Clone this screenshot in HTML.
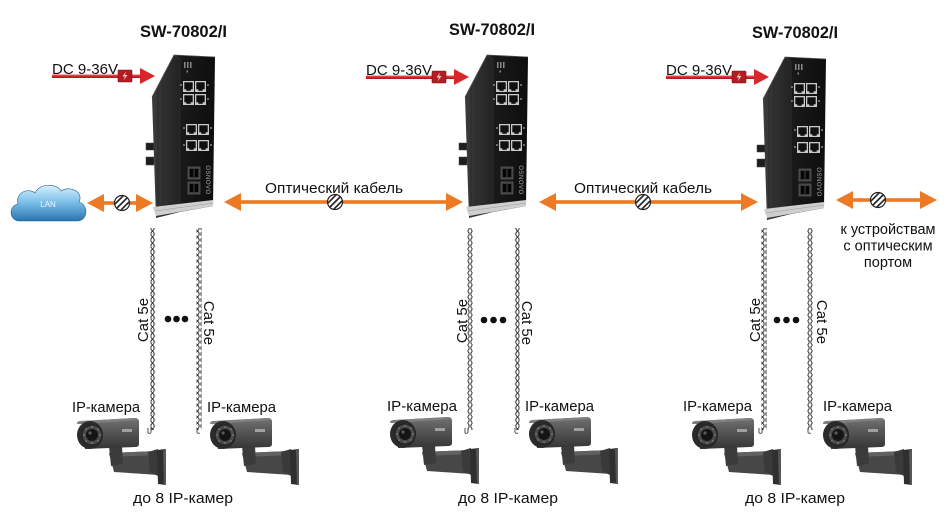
<!DOCTYPE html>
<html><head><meta charset="utf-8"><style>
html,body{margin:0;padding:0;background:#fff;}
svg{display:block;}
text{font-family:"Liberation Sans",Arial,sans-serif;fill:#111;}
</style></head><body>
<svg width="948" height="529" viewBox="0 0 948 529" xmlns="http://www.w3.org/2000/svg">
<defs>
  <linearGradient id="side" x1="0" x2="1" y1="0" y2="0"><stop offset="0" stop-color="#3b3b3b"/><stop offset="1" stop-color="#222"/></linearGradient>
  <linearGradient id="front" x1="0" x2="1" y1="0" y2="0"><stop offset="0" stop-color="#1c1c1c"/><stop offset="1" stop-color="#0e0e0e"/></linearGradient>
  <linearGradient id="cloud" x1="0" y1="0" x2="0" y2="1"><stop offset="0" stop-color="#d8f0fd"/><stop offset="0.45" stop-color="#7fc2ea"/><stop offset="1" stop-color="#2a74b0"/></linearGradient>
  <linearGradient id="camg" x1="0" y1="0" x2="0" y2="1"><stop offset="0" stop-color="#727272"/><stop offset="0.45" stop-color="#555"/><stop offset="1" stop-color="#353535"/></linearGradient>
  <linearGradient id="redl" x1="0" y1="0" x2="0" y2="1"><stop offset="0" stop-color="#f06060"/><stop offset="0.5" stop-color="#d8262b"/><stop offset="1" stop-color="#a81518"/></linearGradient>
  <pattern id="tp" width="5" height="6" patternUnits="userSpaceOnUse"><path d="M0.8,0 C0.8,3 4.2,3 4.2,6 M4.2,0 C4.2,3 0.8,3 0.8,6" stroke="#333" stroke-width="0.95" fill="none"/></pattern>
  <clipPath id="cc"><circle cx="0" cy="0" r="7"/></clipPath>
  <g id="hatch">
    <circle r="7.5" fill="#fff" stroke="#222" stroke-width="1.2"/>
    <g clip-path="url(#cc)" stroke="#222" stroke-width="1.6">
      <line x1="-9" y1="3" x2="3" y2="-9"/>
      <line x1="-6" y1="6" x2="6" y2="-6"/>
      <line x1="-3" y1="9" x2="9" y2="-3"/>
    </g>
  </g>
  <g id="rj"><rect width="11" height="11" fill="#c9c9c9"/><rect x="1.3" y="1.3" width="8.4" height="7" fill="#101010"/><rect x="3.3" y="8" width="4.4" height="1.8" fill="#101010"/></g>
  <g id="sfp"><rect width="12" height="12" fill="#3c3c3c" stroke="#6a6a6a" stroke-width="0.6"/><rect x="1.8" y="2" width="3.6" height="8" fill="#050505"/><rect x="6.6" y="2" width="3.6" height="8" fill="#050505"/></g>
  <g id="sw">
    <rect x="146" y="143" width="8" height="7" fill="#1e1e1e" stroke="#444" stroke-width="0.5"/>
    <rect x="146" y="157" width="8" height="8" fill="#1e1e1e" stroke="#444" stroke-width="0.5"/>
    <polygon points="174,55 180,59 180,212 156,218 152,97" fill="url(#side)"/>
    <g stroke="#2a2a2a" stroke-width="0.8">
      <line x1="158" y1="88" x2="158" y2="215"/><line x1="163" y1="80" x2="163" y2="214"/>
      <line x1="168" y1="70" x2="168" y2="213"/><line x1="173" y1="60" x2="173" y2="212"/>
    </g>
    <polygon points="174,55 215,57 213,206 180,212 180,59" fill="url(#front)"/>
    <polyline points="152,97 174,55 215,57" fill="none" stroke="#555" stroke-width="0.8"/>
    <line x1="180" y1="59" x2="180" y2="212" stroke="#333" stroke-width="0.6"/>
    <polygon points="153,207 213,200 213,206 156,216" fill="#cfcfcf"/>
    <line x1="155" y1="211" x2="213" y2="203" stroke="#999" stroke-width="0.5"/>
    <rect x="184" y="62" width="1.5" height="6" fill="#8a8a8a"/><rect x="187" y="62" width="1.5" height="6" fill="#8a8a8a"/><rect x="190" y="62" width="1.5" height="6" fill="#8a8a8a"/>
    <rect x="186.5" y="70.5" width="1.5" height="2" fill="#8a8a8a"/>
    <use href="#rj" x="183" y="81"/><use href="#rj" x="195" y="81"/>
    <use href="#rj" x="183" y="94"/><use href="#rj" x="195" y="94"/>
    <use href="#rj" x="186" y="124"/><use href="#rj" x="198" y="124"/>
    <use href="#rj" x="186" y="140"/><use href="#rj" x="198" y="140"/>
    <g fill="#8a8a8a">
      <circle cx="181" cy="85" r="1"/><circle cx="208" cy="85" r="1"/><circle cx="181" cy="99" r="1"/><circle cx="208" cy="99" r="1"/>
      <circle cx="184" cy="128" r="1"/><circle cx="211" cy="128" r="1"/><circle cx="184" cy="145" r="1"/><circle cx="211" cy="145" r="1"/>
    </g>
    <use href="#sfp" x="188" y="167"/><use href="#sfp" x="188" y="182"/>
  </g>
  <g id="cam">
    <polygon points="32,35 81,33 82,57 37,54" fill="#474747"/>
    <polygon points="32,35 81,33 81,37 33,39" fill="#616161"/>
    <polygon points="71,34 81,31 81,58 73,54" fill="#3a3a3a"/>
    <polygon points="80,32 89,31 89,67 81,66" fill="#2f2f2f"/>
    <polygon points="86,31 89,31 89,67 87,67" fill="#575757"/>
    <polygon points="32,28 45,28 46,46 34,48" fill="#3b3b3b"/>
    <path d="M6,3 L58,0 Q62,0 62,4 L62,26 Q62,29 58,29 L8,31 Z" fill="url(#camg)"/>
    <path d="M0,6 Q0,3 3,3 L58,0 L61,2 L4,6 Z" fill="#808080"/>
    <ellipse cx="13" cy="17" rx="13" ry="14" fill="#2b2b2b"/>
    <circle cx="15" cy="17" r="10" fill="#4a4a4a" stroke="#1e1e1e" stroke-width="1"/>
    <circle cx="15" cy="17" r="6" fill="#141414"/>
    <circle cx="13" cy="15" r="1.6" fill="#5a5a5a"/>
    <g fill="#8a8a8a">
      <circle cx="23" cy="17" r="0.8"/><circle cx="21" cy="11" r="0.8"/><circle cx="15" cy="9" r="0.8"/><circle cx="9" cy="11" r="0.8"/>
      <circle cx="7" cy="17" r="0.8"/><circle cx="9" cy="23" r="0.8"/><circle cx="15" cy="25" r="0.8"/><circle cx="21" cy="23" r="0.8"/>
    </g>
    <rect x="45" y="11" width="10" height="3" fill="#a0a0a0"/>
  </g>
  <g id="bolt">
    <rect x="0" y="0" width="14" height="12" rx="1" fill="#b31d22" stroke="#7a0f12" stroke-width="0.6"/>
    <path d="M8,1.5 L4.5,6.5 L7,6.5 L5.5,10.5 L9.5,5 L7,5 Z" fill="#f7c6c6"/>
  </g>
</defs>

<!-- Titles -->
<text x="140" y="37" font-size="16.5" font-weight="bold" textLength="87" lengthAdjust="spacingAndGlyphs">SW-70802/I</text>
<text x="449" y="35" font-size="16.5" font-weight="bold" textLength="86" lengthAdjust="spacingAndGlyphs">SW-70802/I</text>
<text x="752" y="38" font-size="16.5" font-weight="bold" textLength="86" lengthAdjust="spacingAndGlyphs">SW-70802/I</text>

<!-- DC arrows -->
<g>
  <text x="52" y="74" font-size="15" textLength="66" lengthAdjust="spacingAndGlyphs">DC 9-36V</text>
  <rect x="52" y="74.5" width="90" height="3.5" fill="url(#redl)"/>
  <polygon points="140,68 155,76 140,84" fill="#d8262b"/>
  <use href="#bolt" x="118" y="70"/>
</g>
<g transform="translate(314,1)">
  <text x="52" y="74" font-size="15" textLength="66" lengthAdjust="spacingAndGlyphs">DC 9-36V</text>
  <rect x="52" y="74.5" width="90" height="3.5" fill="url(#redl)"/>
  <polygon points="140,68 155,76 140,84" fill="#d8262b"/>
  <use href="#bolt" x="118" y="70"/>
</g>
<g transform="translate(614,1)">
  <text x="52" y="74" font-size="15" textLength="66" lengthAdjust="spacingAndGlyphs">DC 9-36V</text>
  <rect x="52" y="74.5" width="90" height="3.5" fill="url(#redl)"/>
  <polygon points="140,68 155,76 140,84" fill="#d8262b"/>
  <use href="#bolt" x="118" y="70"/>
</g>

<!-- Switches -->
<use href="#sw"/>
<use href="#sw" transform="translate(313,0)"/>
<use href="#sw" transform="translate(611,2)"/>
<text transform="translate(206,180) rotate(90)" font-size="6" text-anchor="middle" style="fill:#aaa" letter-spacing="0.5">OSNOVO</text>
<text transform="translate(519,180) rotate(90)" font-size="6" text-anchor="middle" style="fill:#aaa" letter-spacing="0.5">OSNOVO</text>
<text transform="translate(817,182) rotate(90)" font-size="6" text-anchor="middle" style="fill:#aaa" letter-spacing="0.5">OSNOVO</text>

<!-- LAN cloud -->
<path d="M20,221 C9,221 8,206 18,204 C15,193 28,187 35,193 C39,183 57,183 61,191 C70,185 84,192 79,202 C89,205 88,221 77,221 Z" fill="url(#cloud)" stroke="#1d5f92" stroke-width="0.6"/>
<text x="48" y="207" font-size="8" text-anchor="middle" style="fill:#f4f9fd">LAN</text>

<!-- Orange arrows -->
<g fill="#ec7a25">
  <rect x="100" y="201.2" width="40" height="3.6"/>
  <polygon points="87,203 104,194 104,212"/><polygon points="153,203 136,194 136,212"/>
  <rect x="238" y="200.2" width="212" height="3.6"/>
  <polygon points="224,202 241,193 241,211"/><polygon points="463,202 446,193 446,211"/>
  <rect x="553" y="200.2" width="192" height="3.6"/>
  <polygon points="539,202 556,193 556,211"/><polygon points="758,202 741,193 741,211"/>
  <rect x="850" y="198.2" width="74" height="3.6"/>
  <polygon points="836,200 853,191 853,209"/><polygon points="937,200 920,191 920,209"/>
</g>
<use href="#hatch" x="122" y="203"/>
<use href="#hatch" x="335" y="202"/>
<use href="#hatch" x="643" y="202"/>
<use href="#hatch" x="878" y="200"/>

<text x="265" y="193" font-size="15" textLength="138" lengthAdjust="spacingAndGlyphs">Оптический кабель</text>
<text x="574" y="193" font-size="15" textLength="138" lengthAdjust="spacingAndGlyphs">Оптический кабель</text>

<text x="888" y="234" font-size="14.5" text-anchor="middle">к устройствам</text>
<text x="888" y="250.5" font-size="14.5" text-anchor="middle">с оптическим</text>
<text x="888" y="267" font-size="14.5" text-anchor="middle">портом</text>

<!-- Cables -->
<g>
  <rect x="150.5" y="228" width="5" height="202" fill="url(#tp)"/>
  <rect x="196.5" y="228" width="5" height="202" fill="url(#tp)"/>
  <rect x="467.5" y="228" width="5" height="202" fill="url(#tp)"/>
  <rect x="514.5" y="228" width="5" height="202" fill="url(#tp)"/>
  <rect x="761.5" y="228" width="5" height="202" fill="url(#tp)"/>
  <rect x="807.5" y="228" width="5" height="202" fill="url(#tp)"/>
</g>
<g fill="none" stroke="#3a3a3a" stroke-width="0.9">
  <path d="M151,428 L151,432 Q151,434 148,433 L148,428"/>
  <path d="M197,428 L197,432 Q197,434 200,433"/>
  <path d="M468,428 L468,432 Q468,434 465,433 L465,428"/>
  <path d="M515,428 L515,432 Q515,434 518,433"/>
  <path d="M762,428 L762,432 Q762,434 759,433 L759,428"/>
  <path d="M808,428 L808,432 Q808,434 811,433"/>
</g>

<!-- Cat 5e labels -->
<text transform="translate(148,320) rotate(-90)" font-size="15" text-anchor="middle">Cat 5e</text>
<text transform="translate(204,323) rotate(90)" font-size="15" text-anchor="middle">Cat 5e</text>
<text transform="translate(467,321) rotate(-90)" font-size="15" text-anchor="middle">Cat 5e</text>
<text transform="translate(522,323) rotate(90)" font-size="15" text-anchor="middle">Cat 5e</text>
<text transform="translate(760,320) rotate(-90)" font-size="15" text-anchor="middle">Cat 5e</text>
<text transform="translate(817,322) rotate(90)" font-size="15" text-anchor="middle">Cat 5e</text>

<!-- Dots -->
<g fill="#111">
  <circle cx="168" cy="319" r="3.3"/><circle cx="176.5" cy="319" r="3.3"/><circle cx="185" cy="319" r="3.3"/>
  <circle cx="484" cy="320" r="3.3"/><circle cx="493.5" cy="320" r="3.3"/><circle cx="503" cy="320" r="3.3"/>
  <circle cx="777" cy="320" r="3.3"/><circle cx="786.5" cy="320" r="3.3"/><circle cx="796" cy="320" r="3.3"/>
</g>

<!-- Camera labels -->
<text x="72" y="412" font-size="14.5" textLength="68" lengthAdjust="spacingAndGlyphs">IP-камера</text>
<text x="207" y="412" font-size="14.5" textLength="69" lengthAdjust="spacingAndGlyphs">IP-камера</text>
<text x="387" y="411" font-size="14.5" textLength="70" lengthAdjust="spacingAndGlyphs">IP-камера</text>
<text x="525" y="411" font-size="14.5" textLength="69" lengthAdjust="spacingAndGlyphs">IP-камера</text>
<text x="683" y="411" font-size="14.5" textLength="69" lengthAdjust="spacingAndGlyphs">IP-камера</text>
<text x="823" y="411" font-size="14.5" textLength="69" lengthAdjust="spacingAndGlyphs">IP-камера</text>

<!-- Cameras -->
<use href="#cam" x="77" y="418"/>
<use href="#cam" x="210" y="418"/>
<use href="#cam" x="390" y="417"/>
<use href="#cam" x="529" y="417"/>
<use href="#cam" x="692" y="418"/>
<use href="#cam" x="823" y="418"/>

<!-- bottom labels -->
<text x="133" y="503" font-size="15" textLength="100" lengthAdjust="spacingAndGlyphs">до 8 IP-камер</text>
<text x="458" y="503" font-size="15" textLength="100" lengthAdjust="spacingAndGlyphs">до 8 IP-камер</text>
<text x="745" y="503" font-size="15" textLength="100" lengthAdjust="spacingAndGlyphs">до 8 IP-камер</text>
</svg>
</body></html>
